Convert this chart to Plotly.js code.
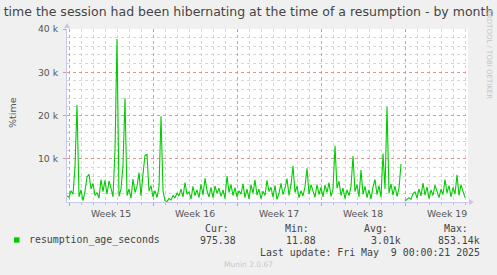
<!DOCTYPE html>
<html>
<head>
<meta charset="utf-8">
<script src="https://cdn.plot.ly/plotly-3.0.1.min.js"></script>
<style>
  html, body { margin: 0; padding: 0; background: #f0f0f0; }
  #chart { width: 497px; height: 275px; }
</style>
</head>
<body>
<div id="chart"></div>
<script>
// ---- data (4-hour samples starting 2025-04-06 20:00) ----
const seriesName = "resumption_age_seconds";
const seriesStart = "2025-04-06 20:00";
const stepHours = 4;
const resumptionAge = [
  1400, 1100, 2600, 1800, 8100, 22500, 1200, 2800, 300, 2500,
  5800, 6400, 3000, 4300, 1500, 2200, 900, 5200, 2400, 5000,
  1800, 4900, 3200, 1200, 12000, 37700, 1300, 3000, 8500, 24000,
  1500, 3000, 900, 5300, 2200, 3600, 6800, 1400, 6500, 10800,
  11000, 2500, 3800, 1200, 2600, 1000, 3400, 19800, 2500, 300,
  100, 800, 500, 1500, 900, 2100, 1400, 3000, 1200, 4500,
  1800, 2400, 700, 3600, 1500, 2800, 1000, 4100, 1600, 5500,
  2600, 1200, 3400, 1000, 3700, 2000, 3200, 1300, 2800, 800,
  6000, 2200, 4000, 1500, 3300, 1200, 2600, 1800, 4200, 1000,
  3000, 700, 4000, 2000, 5100, 1600, 3000, 800, 2500, 1500,
  5000, 2400, 3400, 1100, 3800, 600, 2000, 4300, 1700, 3200,
  5400, 1500, 4000, 8300, 2200, 3700, 1000, 2600, 1400, 3500,
  7800, 1800, 4000, 2600, 1100, 4000, 1700, 3400, 1200, 3900,
  2200, 4500, 1300, 3000, 13000, 3200, 4800, 1500, 3200, 800,
  2800, 1500, 3600, 10600, 2400, 4000, 1200, 7400, 1800, 3600,
  1000, 2800, 700, 3500, 5200, 1700, 3800, 1100, 11200, 3000,
  22000, 2000, 4200, 1600, 3700, 1300, 3200, 8800, null, 200,
  500, 1000, 600, 1900, 2400, 900, 3000, 1400, 4400, 1600,
  3500, 800, 2800, 1500, 3900, 2200, 1000, 3000, 1700, 5200,
  2100, 3800, 1200, 3400, 1800, 6300, 1500, 4000, 2200, 1000
];
const yTickVals = [10000, 20000, 30000, 40000];
const yTickText = ["10 k", "20 k", "30 k", "40 k"];
const legendHeaders = ["Cur:", "Min:", "Avg:", "Max:"];
const legendValues = ["975.38", "11.88", "3.01k", "853.14k"];
const titleText = "time the session had been hibernating at the time of a resumption - by month";
const lastUpdate = "Last update: Fri May \u00a09 00:00:21 2025";

// ---- layout helpers (pixel -> paper) ----
const W = 497, H = 275;
const PL = 67, PR = 468, PT = 29, PB = 202;
const xp = px => (px - PL) / (PR - PL);
const yp = py => (PB - py) / (PB - PT);

const green = "#00cc00";
const axisCol = "#c8c8ee";
const majorGrid = "rgba(225,140,140,0.9)";
const minorGrid = "#d6d6d6";
const txt = "#555555";

const trace = {
  type: "scatter", mode: "lines",
  x0: seriesStart, dx: stepHours * 3600 * 1000,
  y: resumptionAge, name: seriesName,
  line: { color: green, width: 1.1 },
  connectgaps: false, hoverinfo: "skip"
};

const annotations = [];
const mono = "DejaVu Sans Mono";
function ann(text, px, py, anchor, opts) {
  annotations.push(Object.assign({
    text: text, xref: "paper", yref: "paper", x: xp(px), y: yp(py),
    xanchor: anchor, yanchor: "middle", showarrow: false,
    font: { family: mono, size: 9.9, color: "#444" }
  }, opts || {}));
}
ann(seriesName, 27, 240, "left");
const hdrRight = [231, 311, 390, 470];
const valRight = [238, 318, 403, 482];
legendHeaders.forEach((h, i) => ann(h, hdrRight[i], 228.5, "right"));
legendValues.forEach((v, i) => ann(v, valRight[i], 240, "right"));
ann(lastUpdate, 482, 252, "right");
ann("Munin 2.0.67", 248, 264.5, "center", { font: { family: "DejaVu Sans", size: 7.5, color: "#c8c8c8" } });
ann("RRDTOOL / TOBI OETIKER", 489, 54, "center", { textangle: 90, font: { family: "DejaVu Sans", size: 7, color: "#c4c4c4" } });
ann("%time", 12, 113, "center", { textangle: -90, font: { family: "DejaVu Sans", size: 9.5, color: txt } });

const shapes = [
  { type: "rect", xref: "paper", yref: "paper", x0: xp(14), x1: xp(19.5), y0: yp(242.7), y1: yp(237.3),
    fillcolor: green, line: { width: 0 } },
  // axis arrows
  { type: "path", xref: "paper", yref: "paper",
    path: `M ${xp(469)} ${yp(199)} L ${xp(474)} ${yp(202)} L ${xp(469)} ${yp(205)} Z`,
    fillcolor: axisCol, line: { width: 0 } },
  { type: "path", xref: "paper", yref: "paper",
    path: `M ${xp(64)} ${yp(28)} L ${xp(67)} ${yp(23)} L ${xp(70)} ${yp(28)} Z`,
    fillcolor: axisCol, line: { width: 0 } }
];

const layout = {
  width: W, height: H,
  margin: { l: PL, r: W - PR, t: PT, b: H - PB, pad: 0 },
  paper_bgcolor: "#f0f0f0", plot_bgcolor: "#ffffff",
  showlegend: false,
  title: { text: titleText, x: 0.5, xref: "container", xanchor: "center",
           y: 1 - 12 / H, yref: "container", yanchor: "middle",
           font: { family: "DejaVu Sans", size: 12.5, color: "#444" } },
  xaxis: {
    type: "date",
    range: ["2025-04-06 20:00", "2025-05-10 06:00"],
    tick0: "2025-04-07", dtick: 7 * 86400000,
    ticklabelmode: "period", tickformat: "Week %V",
    showgrid: true, gridcolor: majorGrid, griddash: "dot", gridwidth: 1,
    ticks: "outside", ticklen: 3, tickcolor: majorGrid,
    showline: true, linecolor: axisCol, linewidth: 1,
    zeroline: false,
    tickfont: { family: "DejaVu Sans", size: 9.3, color: txt },
    minor: { dtick: 86400000, tick0: "2025-04-07", showgrid: true, gridcolor: minorGrid,
             griddash: "dot", gridwidth: 1, ticks: "outside", ticklen: 2, tickcolor: "#bbbbbb" },
    fixedrange: true
  },
  yaxis: {
    range: [0, 40000],
    tickvals: yTickVals, ticktext: yTickText,
    showgrid: true, gridcolor: majorGrid, griddash: "dot", gridwidth: 1,
    ticks: "outside", ticklen: 3, tickcolor: majorGrid, ticklabelstandoff: 3,
    showline: true, linecolor: axisCol, linewidth: 1,
    zeroline: false,
    tickfont: { family: "DejaVu Sans", size: 9.3, color: txt },
    minor: { dtick: 2000, tick0: 0, showgrid: true, gridcolor: minorGrid,
             griddash: "dot", gridwidth: 1 },
    fixedrange: true
  },
  annotations: annotations,
  shapes: shapes
};

Plotly.newPlot("chart", [trace], layout, { displayModeBar: false, staticPlot: true });
</script>
</body>
</html>
